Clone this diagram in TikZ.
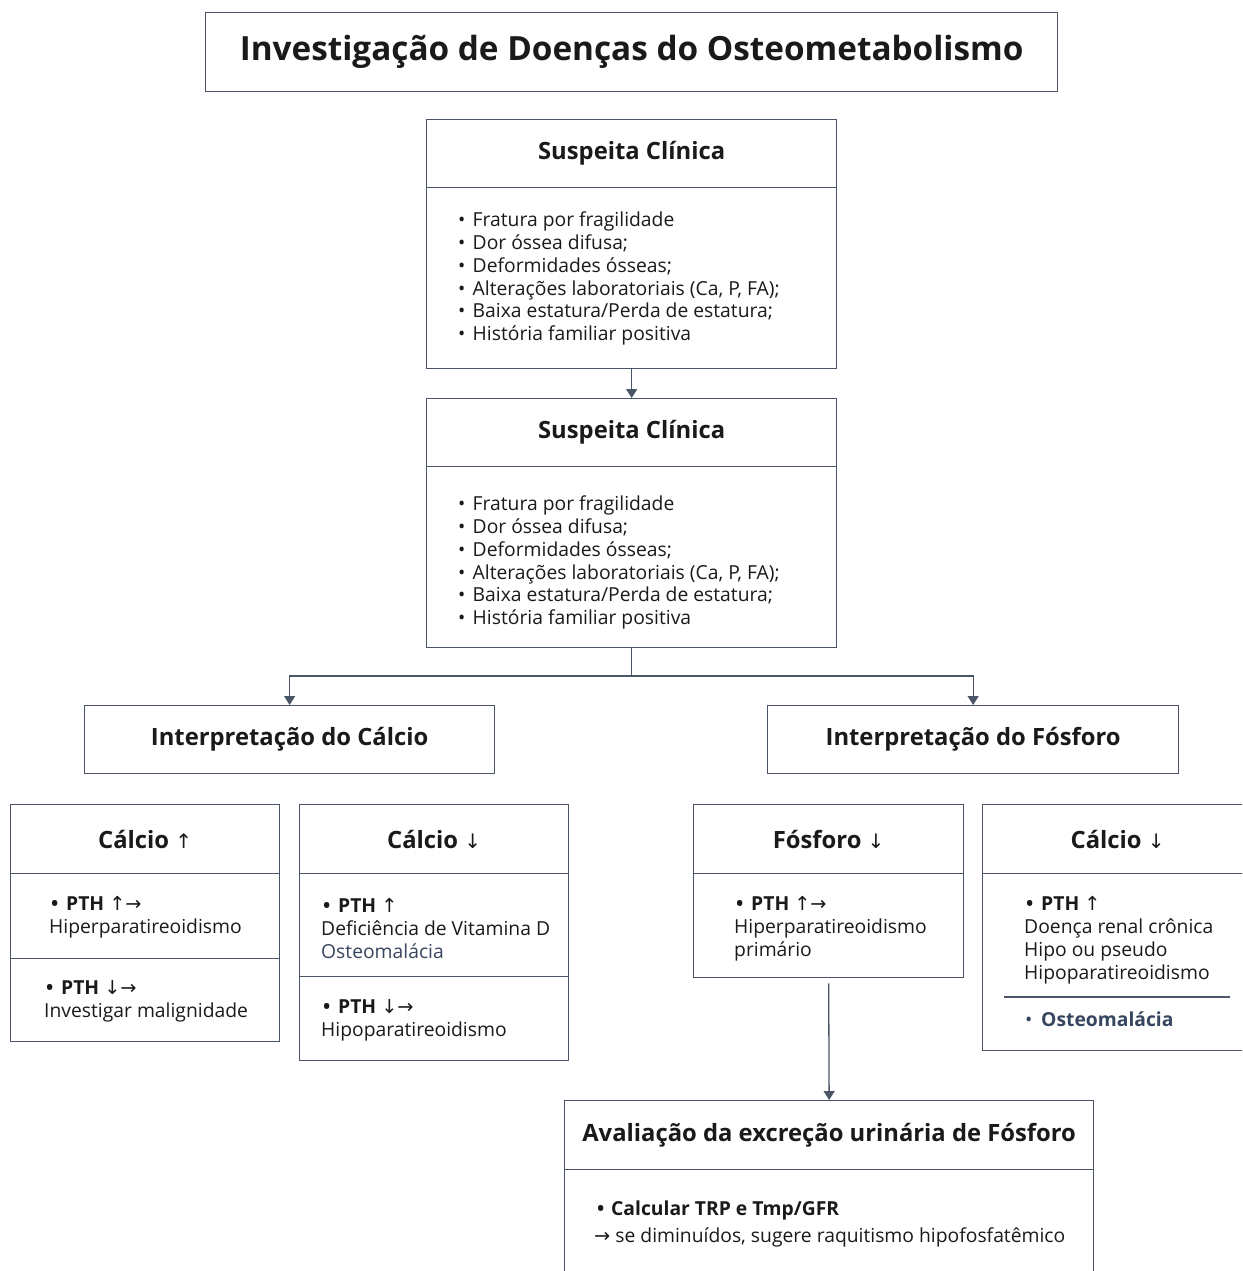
\documentclass[tikz,border=0pt]{standalone}
\usepackage{fontspec}
\setmainfont{Open Sans}[BoldFont={Open Sans Bold}]
\newfontfamily\arrowfont{DejaVu Sans}
\usetikzlibrary{arrows.meta}
\definecolor{edge}{RGB}{74,85,104}
\definecolor{ink}{RGB}{26,26,26}
\definecolor{slate}{RGB}{55,70,95}
\newcommand{\UpArr}{{\arrowfont\mdseries ↑}}
\newcommand{\DnArr}{{\arrowfont\mdseries ↓}}
\newcommand{\RtArr}{{\arrowfont\mdseries →}}
\newcommand{\HUpArr}{{\arrowfont\mdseries\fontsize{20}{24}\selectfont ↑}}
\newcommand{\HDnArr}{{\arrowfont\mdseries\fontsize{20}{24}\selectfont ↓}}
\newcommand{\Bul}{\makebox[14.5pt][l]{•}}
\newcommand{\BBul}{\makebox[15pt][l]{\textbf{•}}}
\tikzset{
  box/.style={draw=edge, line width=1.3pt, fill=white, inner sep=0pt, anchor=north west},
  head/.style={font=\bfseries\fontsize{23.8}{28}\selectfont, text=ink},
  txt/.style={font=\fontsize{19.3}{22.9}\selectfont, text=ink, align=left, anchor=west, inner sep=0pt},
  conn/.style={draw=edge, line width=1.3pt},
  tip/.style={-{Triangle[length=9pt,width=11pt]}}
}
\begin{document}
\begin{tikzpicture}[x=1pt,y=-1pt]
\useasboundingbox (0,0) rectangle (1242,1271);
\fill[white] (0,0) rectangle (1242,1271);
\clip (0,0) rectangle (1242,1271);

% title
\node[box, minimum width=852, minimum height=79, font=\bfseries\fontsize{33.3}{40}\selectfont, text=ink] (title) at (205,12) {Investigação de Doenças do Osteometabolismo};

% first clinical suspicion box
\node[box, head, minimum width=410, minimum height=68] (s1h) at (426,119) {Suspeita Clínica};
\node[box, minimum width=410, minimum height=181] (s1b) at (426,187) {};
\node[txt] (s1l) at (458,278.5) {\Bul Fratura por fragilidade\\\Bul Dor óssea difusa;\\\Bul Deformidades ósseas;\\\Bul Alterações laboratoriais (Ca, P, FA);\\\Bul Baixa estatura/Perda de estatura;\\\Bul História familiar positiva};

% second clinical suspicion box
\node[box, head, minimum width=410, minimum height=68] (s2h) at (426,398) {Suspeita Clínica};
\node[box, minimum width=410, minimum height=181] (s2b) at (426,466) {};
\node[txt] (s2l) at (458,562.5) {\Bul Fratura por fragilidade\\\Bul Dor óssea difusa;\\\Bul Deformidades ósseas;\\\Bul Alterações laboratoriais (Ca, P, FA);\\\Bul Baixa estatura/Perda de estatura;\\\Bul História familiar positiva};

% interpretation boxes
\node[box, head, minimum width=410, minimum height=68] (ica) at (84,705) {Interpretação do Cálcio};
\node[box, head, minimum width=411, minimum height=68] (ifo) at (767,705) {Interpretação do Fósforo};

% calcium high
\node[box, head, minimum width=269, minimum height=69] (cuh) at (10,804) {Cálcio \HUpArr};
\node[box, minimum width=269, minimum height=85] (cub1) at (10,873) {};
\node[box, minimum width=269, minimum height=83] (cub2) at (10,958) {};
\node[txt] (cut1) at (49,917) {\hspace*{2pt}\BBul\textbf{PTH} \UpArr\RtArr\\Hiperparatireoidismo};
\node[txt] (cut2) at (44,1001.5) {\hspace*{2pt}\BBul\textbf{PTH} \DnArr\RtArr\\Investigar malignidade};

% calcium low
\node[box, head, minimum width=269, minimum height=69] (cdh) at (299,804) {Cálcio \HDnArr};
\node[box, minimum width=269, minimum height=103] (cdb1) at (299,873) {};
\node[box, minimum width=269, minimum height=84] (cdb2) at (299,976) {};
\node[txt] (cdt1) at (321,928.5) {\hspace*{2pt}\BBul\textbf{PTH} \UpArr\\Deficiência de Vitamina D\\\textcolor{slate}{Osteomalácia}};
\node[txt] (cdt2) at (321,1020.5) {\hspace*{2pt}\BBul\textbf{PTH} \DnArr\RtArr\\Hipoparatireoidismo};

% phosphorus low
\node[box, head, minimum width=270, minimum height=69] (foh) at (693,804) {Fósforo \HDnArr};
\node[box, minimum width=270, minimum height=104] (fob) at (693,873) {};
\node[txt] (fot) at (734,928.5) {\hspace*{2pt}\BBul\textbf{PTH} \UpArr\RtArr\\Hiperparatireoidismo\\primário};

% calcium low, phosphorus branch
\node[box, head, minimum width=270, minimum height=69] (crh) at (982,804) {Cálcio \HDnArr};
\node[box, minimum width=270, minimum height=177] (crb) at (982,873) {};
\node[txt] (crt1) at (1024,940) {\hspace*{2pt}\BBul\textbf{PTH} \UpArr\\Doença renal crônica\\Hipo ou pseudo\\Hipoparatireoidismo};
\draw[edge, line width=1.1pt] (1004,997) -- (1230,997);
\node[txt, text=slate] (crt2) at (1024,1019.5) {\hspace*{1pt}\makebox[16pt][l]{•}\textbf{Osteomalácia}};

% urinary phosphorus excretion
\node[box, head, minimum width=529, minimum height=69] (avh) at (564,1100) {Avaliação da excreção urinária de Fósforo};
\node[box, minimum width=529, minimum height=140] (avb) at (564,1169) {};
\node[txt] (avt) at (594,1224) {\hspace*{3pt}\makebox[14pt][l]{\textbf{•}}\textbf{Calcular TRP e Tmp/GFR}\\[5pt]\RtArr{} se diminuídos, sugere raquitismo hipofosfatêmico};

% connectors
\draw[conn, tip] (s1b.south) -- (s2h.north);
\coordinate (fork) at (s2b.south |- 0,676);
\draw[conn] (s2b.south) -- (fork);
\draw[conn, tip] (fork) -| (ica.north);
\draw[conn, tip] (fork) -| (ifo.north);
\draw[conn, tip, shorten <=5pt] (fob.south) -- (avh.north);
\end{tikzpicture}
\end{document}
